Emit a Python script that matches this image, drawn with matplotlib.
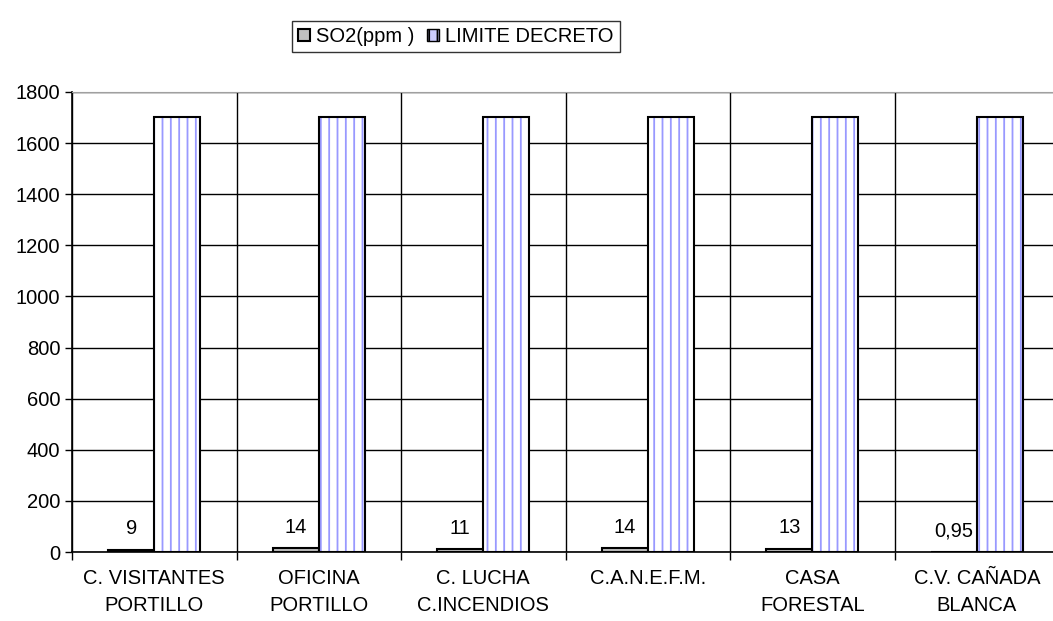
import numpy as np
import matplotlib.pyplot as plt

plt.rcParams['font.family'] = ['Liberation Sans', 'DejaVu Sans']

categories = ['C. VISITANTES\nPORTILLO', 'OFICINA\nPORTILLO', 'C. LUCHA\nC.INCENDIOS',
              'C.A.N.E.F.M.', 'CASA\nFORESTAL', 'C.V. CAÑADA\nBLANCA']
so2 = [9, 14, 11, 14, 13, 0.95]
so2_labels = ['9', '14', '11', '14', '13', '0,95']
limite = [1700, 1700, 1700, 1700, 1700, 1700]

fs = 14.5

fig = plt.figure(figsize=(10.53, 6.21), dpi=100)
ax = fig.add_axes([0.0684, 0.111, 0.9373, 0.741])

x = np.arange(len(categories))
w = 0.28
b1 = ax.bar(x - w / 2, so2, w, color='#c0c0c0', edgecolor='black', linewidth=1.5,
            label='SO2(ppm )', zorder=3)
plt.rcParams['hatch.color'] = '#9999ff'
plt.rcParams['hatch.linewidth'] = 1.3
b2 = ax.bar(x + w / 2, limite, w, color='white', edgecolor='black', linewidth=1.5,
            hatch='||', label='LIMITE DECRETO', zorder=3)
# hatch in blue, outline drawn separately in black
for p in b2:
    p.set_edgecolor('#9999ff')
    p.set_linewidth(0)
ax.bar(x + w / 2, limite, w, fill=False, edgecolor='black', linewidth=1.5, zorder=4)

for xi, v, s in zip(x, so2, so2_labels):
    ax.text(xi - w / 2, v + 45, s, ha='center', va='bottom', fontsize=fs)

ax.set_xlim(-0.5, len(categories) - 0.5)
ax.set_ylim(0, 1800)
ax.set_yticks(np.arange(0, 1801, 200))
ax.tick_params(axis='y', labelsize=fs, length=5, direction='out', width=1)
ax.set_xticks(x)
ax.set_xticklabels(categories, fontsize=fs, linespacing=1.55)
ax.tick_params(axis='x', length=0, pad=12)
ax.set_xticks(np.arange(-0.5, len(categories), 1), minor=True)
ax.tick_params(axis='x', which='minor', length=6, width=1)

ax.grid(axis='y', color='black', linewidth=1, zorder=0)
ax.grid(axis='x', which='minor', color='black', linewidth=1, zorder=0)
ax.spines['top'].set_color('#a0a0a0')
ax.spines['right'].set_visible(False)
ax.spines['left'].set_linewidth(1.2)
ax.spines['bottom'].set_linewidth(1.2)

leg = fig.legend(handles=[b1, b2], loc='center', bbox_to_anchor=(0.433, 0.941), ncol=2,
                 fontsize=fs, frameon=True, fancybox=False, edgecolor='black',
                 handlelength=0.6, handleheight=0.6, handletextpad=0.3, columnspacing=0.6,
                 borderpad=0.3)
leg.get_frame().set_linewidth(1)
leg.legend_handles[1].set_edgecolor('black')
leg.legend_handles[1].set_facecolor('#ccccff')
leg.legend_handles[1].set_linewidth(1)

fig.savefig('out.png', dpi=100)
